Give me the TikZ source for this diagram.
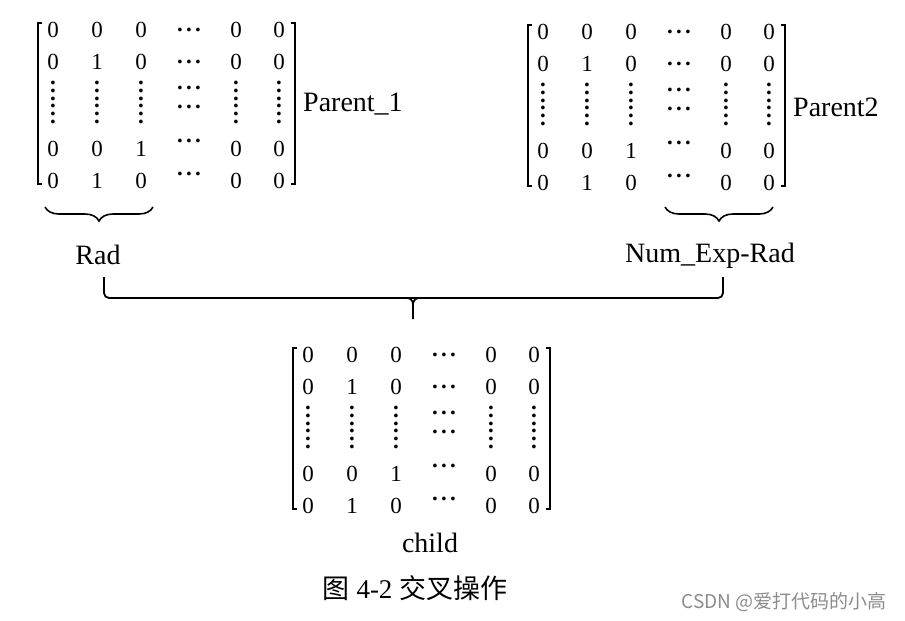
\documentclass[tikz,border=0pt]{standalone}
\usepackage{fontspec}
\setmainfont{Liberation Serif}
\newfontfamily\cjk{Noto Sans CJK SC}
\usetikzlibrary{decorations.pathreplacing}

\newcommand{\hdotsx}{\bfseries.\kern3.3pt.\kern3.3pt.}
\newcommand{\vdotsx}{\bfseries\vbox{\baselineskip7.8pt\lineskiplimit0pt
  \hbox{.}\hbox{.}\hbox{.}\hbox{.}\hbox{.}\hbox{.}}}

% one 0/1 matrix: #1 name, (#2,#3) centre of its first entry
\newcommand{\bitmat}[3]{%
  \begin{scope}[shift={(#2,#3)}]
    \foreach \r/\yy/\ca/\cb/\cc/\dy in {1/0/0/0/0/0, 2/32/0/1/0/0, 5/119/0/0/1/-8, 6/151/0/1/0/-7}{
      \node[bit] (#1-\r-1) at (0,\yy) {\ca};
      \node[bit] (#1-\r-2) at (44,\yy) {\cb};
      \node[bit] (#1-\r-3) at (88,\yy) {\cc};
      \node[bit] (#1-\r-4) at (136,\yy+\dy) {\hdotsx};
      \node[bit] (#1-\r-5) at (183,\yy) {0};
      \node[bit] (#1-\r-6) at (226,\yy) {0};
    }
    \foreach \c/\xx in {1/0,2/44,3/88,5/183,6/226}
      \node[bit] (#1-v-\c) at (\xx,72.5) {\vdotsx};
    \node[bit] (#1-3-4) at (136,58) {\hdotsx};
    \node[bit] (#1-4-4) at (136,77) {\hdotsx};
    \draw[bracket] (-11,-7) -- (-15,-7) -- (-15,154) -- (-11,154);
    \draw[bracket] (238,-7) -- (242,-7) -- (242,154) -- (238,154);
  \end{scope}}

\begin{document}
\begin{tikzpicture}[x=1pt, y=-1pt,
    bit/.style={inner sep=0pt, font=\fontsize{23}{23}\selectfont},
    lbl/.style={inner sep=0pt, font=\fontsize{28}{28}\selectfont},
    bracket/.style={line width=1.8pt},
    brace/.style={line width=1.6pt, decorate, decoration={brace, mirror, amplitude=14pt}},
    link/.style={line width=1.8pt}
]
\useasboundingbox (0,0) rectangle (905,621);

% the two parents and the child
\bitmat{pa}{53}{30}
\bitmat{pb}{543}{32}
\bitmat{ch}{308}{355}

\node[lbl, anchor=west] (pal) at (303,104) {Parent\_1};
\node[lbl, anchor=west] (pbl) at (793,107) {Parent2};

\draw[brace] (45,207) -- (153,207);
\draw[brace] (665,207) -- (773,207);

\node[lbl] (rad) at (98,255) {Rad};
\node[lbl] (rest) at (710,256) {Num\_Exp-Rad};

% joining bracket
\coordinate (lfoot) at (104,277);
\coordinate (rfoot) at (723,277);
\coordinate (fork) at (413,298);
\coordinate (tip) at (413,319);
\draw[link, rounded corners=5pt] (lfoot) |- (fork) -| (rfoot);
\draw[link] ([xshift=-6pt]fork) to[out=0,in=90] ([yshift=-6pt]fork) -- (tip);
\draw[link] ([xshift=6pt]fork) to[out=180,in=90] ([yshift=-6pt]fork);

\node[lbl] (chl) at (430,543) {child};
\node[lbl, font=\fontsize{27}{27}\selectfont] (cap) at (415,588) {{\cjk 图} 4-2 {\cjk 交叉操作}};
\node[inner sep=0pt, text=black!45, font=\cjk\fontsize{19}{19}\selectfont] (mark) at (784,602) {CSDN @爱打代码的小高};
\end{tikzpicture}
\end{document}
